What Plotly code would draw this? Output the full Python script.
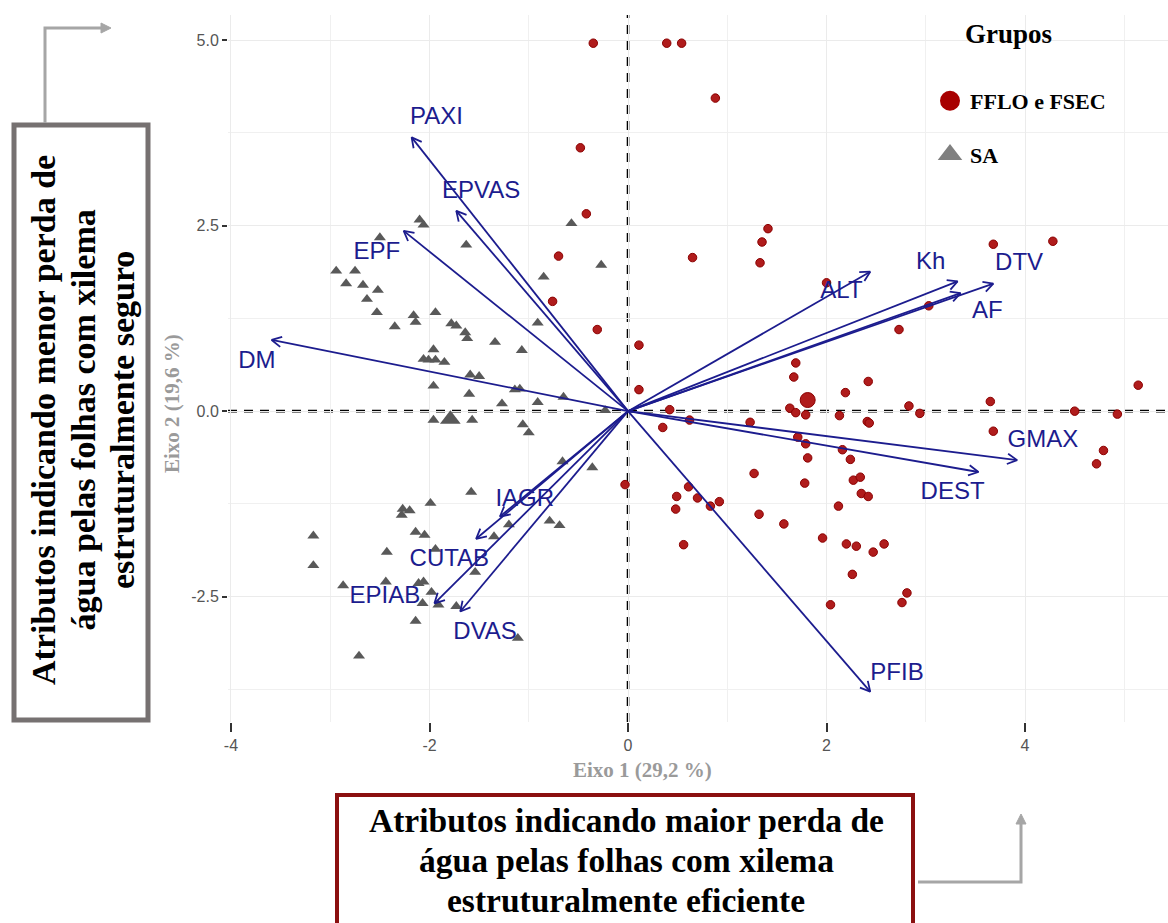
import numpy as np
import plotly.graph_objects as go

# ---------------- data ----------------
# Group SA (triangles)
sa_x = [-2.10, -2.06, -2.50, -1.63, -0.57, -0.27, -0.85, -2.94, -2.75, -2.84,
        -2.67, -2.52, -2.63, -2.53, -2.35, -2.16, -2.14, -1.94, -1.78, -1.73,
        -1.64, -1.62, -1.34, -1.07, -0.91, -1.96, -2.06, -2.01, -1.94, -1.85,
        -1.59, -1.50, -1.96, -1.60, -1.14, -1.09, -1.27, -0.91, -0.65, -0.23,
        -1.96, -1.57, -1.06, -1.00, -0.66, -0.36, -1.58, -1.99, -2.27, -2.20,
        -2.28, -3.17, -3.17, -2.14, -2.05, -2.43, -1.94, -1.20, -0.79, -0.69,
        -1.35, -1.54, -2.87, -2.44, -2.11, -2.06, -1.98, -2.07, -1.91, -1.73,
        -2.14, -1.11, -2.71]
sa_y = [2.58, 2.51, 2.34, 2.24, 2.53, 1.97, 1.81, 1.89, 1.89, 1.72,
        1.70, 1.63, 1.51, 1.33, 1.14, 1.29, 1.20, 1.33, 1.18, 1.15,
        1.06, 0.98, 0.93, 0.82, 1.19, 0.83, 0.70, 0.69, 0.69, 0.66,
        0.49, 0.47, 0.34, 0.23, 0.29, 0.30, 0.10, 0.12, 0.19, 0.01,
        -0.12, -0.12, -0.18, -0.29, -0.68, -0.76, -1.09, -1.24, -1.32, -1.34,
        -1.40, -1.68, -2.08, -1.63, -1.67, -1.90, -1.86, -1.53, -1.48, -1.54,
        -1.69, -2.17, -2.35, -2.30, -2.32, -2.30, -2.44, -2.59, -2.61, -2.63,
        -2.83, -3.06, -3.30]

# Group FFLO e FSEC (circles)
ff_x = [-0.35, 0.39, 0.54, 0.88, -0.48, -0.42, -0.70, -0.76, -0.31, 0.65,
        1.41, 1.35, 1.33, 2.00, 3.68, 4.28, 3.03, 2.73, 0.11, 0.11,
        1.69, 1.67, 2.42, 2.19, 5.14, 3.65, 2.83, 2.94, 1.63, 1.69,
        1.79, 0.42, 2.13, 4.50, 4.93, 0.62, 0.35, -0.03, 0.61, 0.49,
        0.70, 0.48, 0.83, 0.92, 0.56, 1.23, 1.27, 1.32, 1.57, 1.71,
        1.79, 1.81, 1.78, 2.41, 2.43, 2.16, 2.24, 2.27, 2.34, 2.35,
        2.42, 2.12, 1.96, 2.20, 2.30, 2.47, 2.58, 2.26, 2.04, 2.76,
        2.81, 3.68, 4.79, 4.72]
ff_y = [4.96, 4.96, 4.96, 4.22, 3.55, 2.66, 2.09, 1.48, 1.10, 2.07,
        2.46, 2.28, 2.00, 1.73, 2.25, 2.29, 1.42, 1.10, 0.89, 0.29,
        0.65, 0.46, 0.40, 0.25, 0.35, 0.13, 0.07, -0.03, 0.04, -0.02,
        -0.05, 0.02, -0.06, 0.00, -0.04, -0.12, -0.22, -0.99, -1.02, -1.15,
        -1.17, -1.32, -1.28, -1.22, -1.80, -0.15, -0.84, -1.39, -1.52, -0.35,
        -0.44, -0.63, -0.97, -0.14, -0.16, -0.52, -0.65, -0.93, -0.89, -1.11,
        -1.15, -1.28, -1.71, -1.79, -1.82, -1.90, -1.79, -2.20, -2.61, -2.58,
        -2.45, -0.27, -0.53, -0.71]

# Group centroids
cen_ff = (1.81, 0.15)
cen_sa = (-1.79, -0.11)

# Variable loadings (arrows)
var_names = ["PAXI", "EPVAS", "EPF", "DM", "ALT", "Kh", "DTV", "AF",
             "GMAX", "DEST", "PFIB", "IAGR", "CUTAB", "EPIAB", "DVAS"]
var_x = [-2.18, -1.73, -2.26, -3.59, 2.44, 3.32, 3.68, 3.35,
         3.92, 3.53, 2.44, -1.29, -1.53, -1.95, -1.69]
var_y = [3.69, 2.70, 2.43, 0.96, 1.88, 1.75, 1.72, 1.59,
         -0.66, -0.82, -3.78, -1.42, -1.72, -2.59, -2.70]
lab_x = [-1.93, -1.48, -2.53, -3.74, 2.15, 3.05, 3.94, 3.62,
         4.18, 3.27, 2.71, -1.04, -1.80, -2.45, -1.44]
lab_y = [3.95, 2.95, 2.13, 0.66, 1.61, 2.00, 1.98, 1.34,
         -0.40, -1.10, -3.54, -1.20, -2.01, -2.50, -2.99]

x_tickvals = [-4, -2, 0, 2, 4]
x_ticktext = ["-4", "-2", "0", "2", "4"]
x_minor = [-3, -1, 1, 3, 5]
y_tickvals = [-2.5, 0.0, 2.5, 5.0]
y_ticktext = ["-2.5", "0.0", "2.5", "5.0"]
y_minor = [-3.75, -1.25, 1.25, 3.75]

left_lines = ["Atributos indicando menor perda de",
              "água pelas folhas com xilema",
              "estruturalmente seguro"]
bottom_lines = ["Atributos indicando maior perda de",
                "água pelas folhas com xilema",
                "estruturalmente eficiente"]

# ---------------- layout geometry ----------------
FW, FH = 1168, 923
PL, PR, PT, PB = 228, 1168, 15, 722
XR = [-4.03, 5.44]
YR = [-4.19, 5.34]

NAVY = "#1c1c8e"
RED = "#b01c1c"
GRAY = "#595959"
SERIF = "Liberation Serif, Times New Roman, serif"
SANS = "Liberation Sans, Arial, sans-serif"


def px(xp):
    return (xp - PL) / (PR - PL)


def py(yp):
    return (PB - yp) / (PB - PT)


kx = (PR - PL) / (XR[1] - XR[0])
ky = (PB - PT) / (YR[1] - YR[0])
HEAD = 11.0
ANG = np.radians(28)

arr_x, arr_y = [], []
for vx, vy in zip(var_x, var_y):
    dx, dy = vx * kx, vy * ky
    n = np.hypot(dx, dy)
    ux, uy = -dx / n, -dy / n
    wings = []
    for s in (1, -1):
        a = ANG * s
        wx = ux * np.cos(a) - uy * np.sin(a)
        wy = ux * np.sin(a) + uy * np.cos(a)
        wings.append((vx + HEAD * wx / kx, vy + HEAD * wy / ky))
    arr_x += [0, vx, None, wings[0][0], vx, wings[1][0], None]
    arr_y += [0, vy, None, wings[0][1], vy, wings[1][1], None]

fig = go.Figure()

fig.add_trace(go.Scatter(
    x=sa_x, y=sa_y, mode="markers", showlegend=False,
    marker=dict(symbol="triangle-up", size=10.5, color=GRAY, line=dict(width=0)),
    hoverinfo="skip"))
fig.add_trace(go.Scatter(
    x=ff_x, y=ff_y, mode="markers", showlegend=False,
    marker=dict(symbol="circle", size=8.5, color=RED, line=dict(width=1, color="#8b0000")),
    hoverinfo="skip"))
fig.add_trace(go.Scatter(
    x=[cen_sa[0]], y=[cen_sa[1]], mode="markers", showlegend=False,
    marker=dict(symbol="triangle-up", size=18, color=GRAY, line=dict(width=0))))
fig.add_trace(go.Scatter(
    x=[cen_ff[0]], y=[cen_ff[1]], mode="markers", showlegend=False,
    marker=dict(symbol="circle", size=15, color=RED, line=dict(width=1, color="#8b0000"))))

fig.add_trace(go.Scatter(
    x=arr_x, y=arr_y, mode="lines", showlegend=False,
    line=dict(color=NAVY, width=1.8), hoverinfo="skip"))
fig.add_trace(go.Scatter(
    x=lab_x, y=lab_y, mode="text", text=var_names, showlegend=False,
    textposition="middle center",
    textfont=dict(family=SANS, size=24, color=NAVY), cliponaxis=False))

# legend entries
fig.add_trace(go.Scatter(
    x=[None], y=[None], mode="markers", name="FFLO e FSEC", legendgroup="g1",
    marker=dict(symbol="circle", size=16, color="#a80000", line=dict(width=4, color="#a80000"))))
fig.add_trace(go.Scatter(
    x=[None], y=[None], mode="markers", name="SA", legendgroup="g2",
    marker=dict(symbol="triangle-up", size=16, color="#808080", line=dict(width=3, color="#808080"))))

shapes = [
    dict(type="line", xref="x", yref="paper", x0=0, x1=0, y0=0, y1=1, layer="between",
         line=dict(color="black", width=2.6, dash="9px,7px")),
    dict(type="line", xref="paper", yref="y", x0=0, x1=1, y0=0, y1=0, layer="between",
         line=dict(color="black", width=2.6, dash="9px,7px")),
    # left box
    dict(type="rect", xref="paper", yref="paper", x0=px(14), x1=px(148), y0=py(720), y1=py(125),
         line=dict(color="#767171", width=5), fillcolor="white", layer="above"),
    # bottom box
    dict(type="rect", xref="paper", yref="paper", x0=px(337), x1=px(913), y0=py(935), y1=py(795),
         line=dict(color="#8b1010", width=4), fillcolor="white", layer="above"),
    # left connector
    dict(type="path", xref="paper", yref="paper", layer="above",
         path=f"M{px(45)},{py(123)} L{px(45)},{py(28)} L{px(104)},{py(28)}",
         line=dict(color="#a6a6a6", width=3)),
    dict(type="path", xref="paper", yref="paper", layer="above",
         path=f"M{px(111)},{py(28)} L{px(101)},{py(23)} L{px(101)},{py(33)} Z",
         line=dict(color="#a6a6a6", width=1), fillcolor="#a6a6a6"),
    # bottom connector
    dict(type="path", xref="paper", yref="paper", layer="above",
         path=f"M{px(918)},{py(882)} L{px(1021)},{py(882)} L{px(1021)},{py(822)}",
         line=dict(color="#a6a6a6", width=3)),
    dict(type="path", xref="paper", yref="paper", layer="above",
         path=f"M{px(1021)},{py(814)} L{px(1016)},{py(824)} L{px(1026)},{py(824)} Z",
         line=dict(color="#a6a6a6", width=1), fillcolor="#a6a6a6"),
]

annotations = [
    dict(xref="paper", yref="paper", x=px(642), y=py(770), text="<b>Eixo 1 (29,2 %)</b>",
         showarrow=False, xanchor="center", yanchor="middle",
         font=dict(family=SERIF, size=21, color="#9a9a9a")),
    dict(xref="paper", yref="paper", x=px(172), y=py(404), text="<b>Eixo 2 (19,6 %)</b>",
         showarrow=False, xanchor="center", yanchor="middle", textangle=-90,
         font=dict(family=SERIF, size=21, color="#9a9a9a")),
    dict(xref="paper", yref="paper", x=px(963), y=py(34), text="<b>Grupos</b>",
         showarrow=False, xanchor="left", yanchor="middle",
         font=dict(family=SERIF, size=27, color="black")),
]
for i, line in enumerate(bottom_lines):
    annotations.append(dict(
        xref="paper", yref="paper", x=px(626), y=py(820 + 40 * i), text=f"<b>{line}</b>",
        showarrow=False, xanchor="center", yanchor="middle",
        font=dict(family=SERIF, size=33.5, color="black")))
for i, line in enumerate(left_lines):
    annotations.append(dict(
        xref="paper", yref="paper", x=px(43 + 39.5 * i), y=py(420), text=f"<b>{line}</b>",
        showarrow=False, xanchor="center", yanchor="middle", textangle=-90,
        font=dict(family=SERIF, size=34, color="black")))

fig.update_layout(
    width=FW, height=FH,
    margin=dict(l=PL, r=FW - PR, t=PT, b=FH - PB, pad=0),
    paper_bgcolor="white", plot_bgcolor="white",
    shapes=shapes, annotations=annotations,
    legend=dict(x=px(930), y=py(80), xanchor="left", yanchor="top",
                bgcolor="rgba(0,0,0,0)", tracegroupgap=22,
                font=dict(family=SERIF, size=22, color="black", weight="bold"),
                itemsizing="trace"),
    xaxis=dict(range=XR, tickvals=x_tickvals, ticktext=x_ticktext,
               showgrid=True, gridcolor="#ebebeb", gridwidth=1.4, zeroline=False,
               showline=False, ticks="outside", ticklen=9, tickwidth=1.5, tickcolor="#333333",
               tickfont=dict(family=SANS, size=16, color="#555555"),
               minor=dict(tickvals=x_minor, showgrid=True, gridcolor="#f0f0f0", gridwidth=1, ticks=""),
               fixedrange=True),
    yaxis=dict(range=YR, tickvals=y_tickvals, ticktext=y_ticktext,
               showgrid=True, gridcolor="#ebebeb", gridwidth=1.4, zeroline=False,
               showline=False, ticks="outside", ticklen=5, tickwidth=1.5, tickcolor="#333333",
               tickfont=dict(family=SANS, size=16, color="#555555"),
               minor=dict(tickvals=y_minor, showgrid=True, gridcolor="#f0f0f0", gridwidth=1, ticks=""),
               fixedrange=True),
)

fig.write_html("out.html", config={"displayModeBar": False},
               post_script="document.body.style.margin='0';")
